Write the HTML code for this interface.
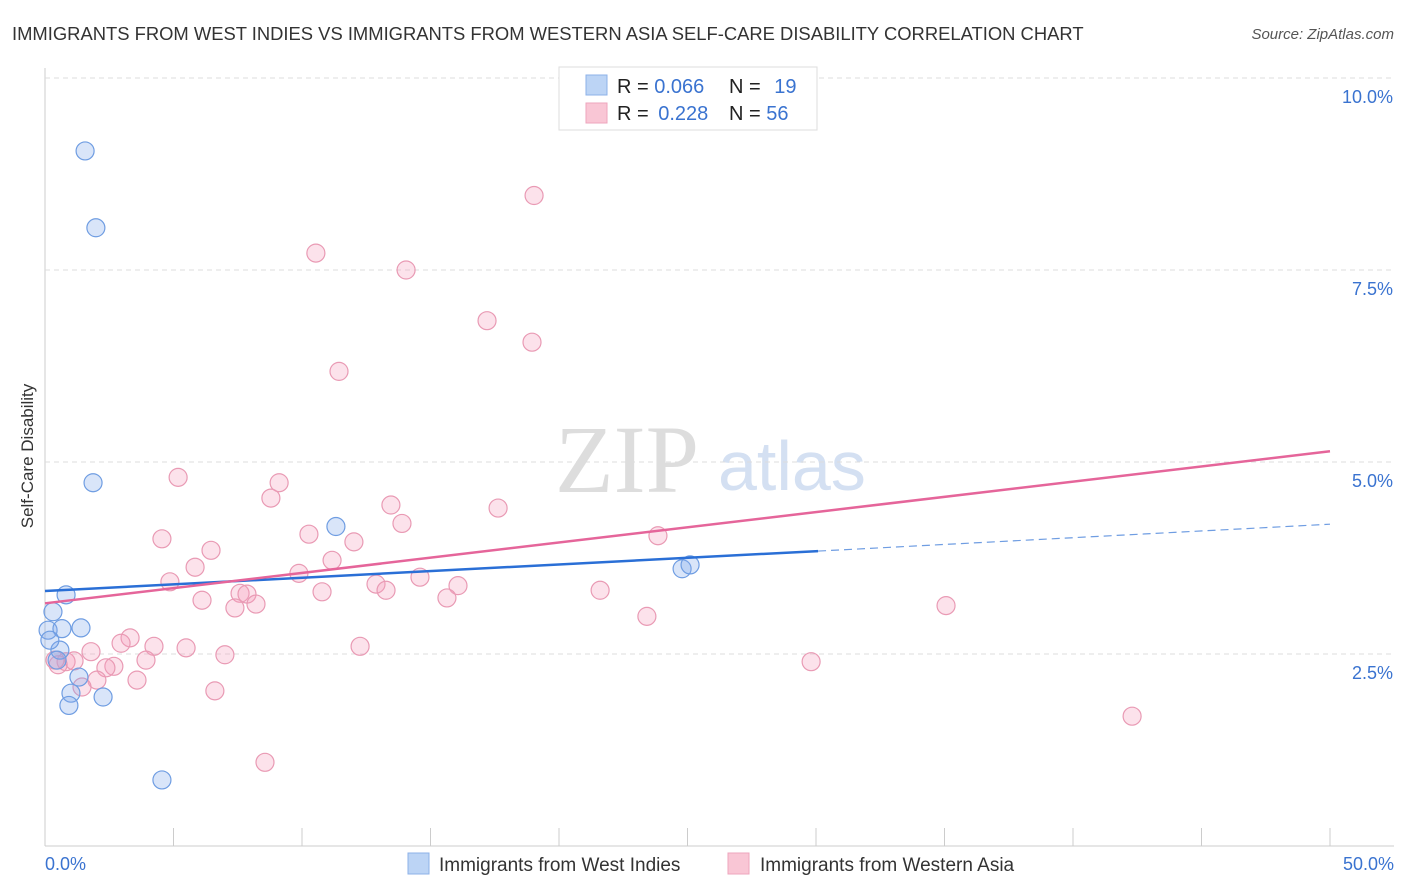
<!DOCTYPE html>
<html><head><meta charset="utf-8"><style>
body{margin:0;background:#fff;font-family:"Liberation Sans",sans-serif;}
svg{display:block}
</style></head><body>
<svg id="c" width="1406" height="892">
<text x="12" y="40" font-size="18.4" fill="#333">IMMIGRANTS FROM WEST INDIES VS IMMIGRANTS FROM WESTERN ASIA SELF-CARE DISABILITY CORRELATION CHART</text>
<text x="1394" y="39" font-size="15" fill="#555" font-style="italic" text-anchor="end">Source: ZipAtlas.com</text>
<text x="33" y="456" font-size="17" fill="#333" text-anchor="middle" transform="rotate(-90 33 456)">Self-Care Disability</text>
<text x="555" y="492" font-size="96" fill="#ddd" font-family="Liberation Serif,serif">ZIP</text>
<text x="718" y="490" font-size="70" fill="#d4e0f2">atlas</text>
<g id="grid"></g><g id="marks"></g>
<g>
<rect x="559" y="67" width="258" height="63" fill="#fff" stroke="#ddd"/>
<rect x="586" y="75" width="21" height="20" fill="#bcd4f5" stroke="#8db2e8"/>
<rect x="586" y="103" width="21" height="20" fill="#f9c6d5" stroke="#eea5bd"/>
<text x="617" y="93" font-size="20" fill="#222">R = <tspan fill="#3a73d0">0.066</tspan></text>
<text x="729" y="93" font-size="20" fill="#222">N = <tspan fill="#3a73d0" dx="8">19</tspan></text>
<text x="617" y="120" font-size="20" fill="#222">R = <tspan fill="#3a73d0" dx="4">0.228</tspan></text>
<text x="729" y="120" font-size="20" fill="#222">N = <tspan fill="#3a73d0">56</tspan></text>
</g>
<g>
<rect x="408" y="853" width="21" height="21" fill="#bcd4f5" stroke="#8db2e8"/>
<text x="439" y="871" font-size="19" fill="#333">Immigrants from West Indies</text>
<rect x="728" y="853" width="21" height="21" fill="#f9c6d5" stroke="#eea5bd"/>
<text x="760" y="871" font-size="19" fill="#333">Immigrants from Western Asia</text>
</g>
</svg>
<script>
const blueX=[1.56,1.98,1.87,11.32,0.82,0.31,0.12,0.66,1.40,0.58,0.47,1.32,1.01,0.93,2.26,4.55,24.79,25.1,0.19];
const blueY=[9.05,8.05,4.73,4.16,3.27,3.05,2.81,2.83,2.84,2.55,2.42,2.2,1.99,1.83,1.94,0.86,3.61,3.66,2.68];
const pinkX=[19.03,10.54,14.05,17.2,18.95,11.44,5.18,9.11,8.79,13.46,17.63,13.89,10.27,4.55,12.02,23.85,6.46,11.17,5.84,9.88,4.86,14.59,12.88,16.07,13.27,10.78,7.59,7.86,21.6,6.11,8.21,7.39,15.64,35.06,23.42,3.31,2.96,4.24,5.49,12.26,1.79,7.0,3.93,2.68,2.37,29.81,0.82,1.13,0.51,2.02,1.44,3.58,6.61,42.3,8.56,0.39];
const pinkY=[8.47,7.72,7.5,6.84,6.56,6.18,4.8,4.73,4.53,4.44,4.4,4.2,4.06,4.0,3.96,4.04,3.85,3.72,3.63,3.55,3.44,3.5,3.41,3.39,3.33,3.31,3.29,3.28,3.33,3.2,3.15,3.1,3.23,3.13,2.99,2.71,2.64,2.6,2.58,2.6,2.53,2.49,2.42,2.34,2.32,2.4,2.4,2.41,2.36,2.16,2.07,2.16,2.02,1.69,1.09,2.42];
const blueLineX=[0,30.08];const blueLineY=[3.32,3.84];
const blueDashX=[30.08,50];const blueDashY=[3.84,4.19];
const pinkLineX=[0,50];const pinkLineY=[3.16,5.14];
const yTicks=[2.5,5.0,7.5,10.0];
const yTickLabels=["2.5%","5.0%","7.5%","10.0%"];
const xTicks=[5,10,15,20,25,30,35,40,45,50];

const NS="http://www.w3.org/2000/svg";
const sx=v=>45+v*25.7, sy=v=>846-v*76.8;
function mk(t,a,p){const e=document.createElementNS(NS,t);for(const k in a)e.setAttribute(k,a[k]);p.appendChild(e);return e;}
const grid=document.getElementById('grid'), marks=document.getElementById('marks');
let ax=mk('line',{x1:45,y1:68,x2:45,y2:846,stroke:'#ccc'},grid);


ax=mk('line',{x1:45,y1:846,x2:1394,y2:846,stroke:'#ccc'},grid);


yTicks.forEach((t,i)=>{
 const g=mk('line',{x1:45,x2:1394,y1:sy(t),y2:sy(t),stroke:'#ddd','stroke-dasharray':'5,4'},grid);
 
 
 const l=mk('text',{x:1393,y:sy(t)+25,'font-size':18,fill:'#3a73d0','text-anchor':'end'},grid);l.textContent=yTickLabels[i];
 
 
});
xTicks.forEach(t=>{
 const g=mk('line',{x1:sx(t),x2:sx(t),y1:828,y2:846,stroke:'#ccc'},grid);
 
 
});
let xl=mk('text',{x:45,y:870,'font-size':18,fill:'#3a73d0'},grid);xl.textContent='0.0%';


xl=mk('text',{x:1394,y:870,'font-size':18,fill:'#3a73d0','text-anchor':'end'},grid);xl.textContent='50.0%';


pinkX.forEach((x,i)=>{
 const c=mk('circle',{cx:sx(x),cy:sy(pinkY[i]),r:9,fill:'rgba(244,160,188,0.3)',stroke:'#e99ab4','stroke-width':1.2},marks);
 
 
});
blueX.forEach((x,i)=>{
 const c=mk('circle',{cx:sx(x),cy:sy(blueY[i]),r:9,fill:'rgba(130,170,235,0.3)',stroke:'#6f9de2','stroke-width':1.2},marks);
 
 
});
let ln=mk('line',{x1:sx(blueLineX[0]),y1:sy(blueLineY[0]),x2:sx(blueLineX[1]),y2:sy(blueLineY[1]),stroke:'#2a6fd6','stroke-width':2.5},marks);


ln=mk('line',{x1:sx(blueDashX[0]),y1:sy(blueDashY[0]),x2:sx(blueDashX[1]),y2:sy(blueDashY[1]),stroke:'#6f9de2','stroke-width':1.2,'stroke-dasharray':'8,5'},marks);


ln=mk('line',{x1:sx(pinkLineX[0]),y1:sy(pinkLineY[0]),x2:sx(pinkLineX[1]),y2:sy(pinkLineY[1]),stroke:'#e5659a','stroke-width':2.5},marks);


</script>
</body></html>
